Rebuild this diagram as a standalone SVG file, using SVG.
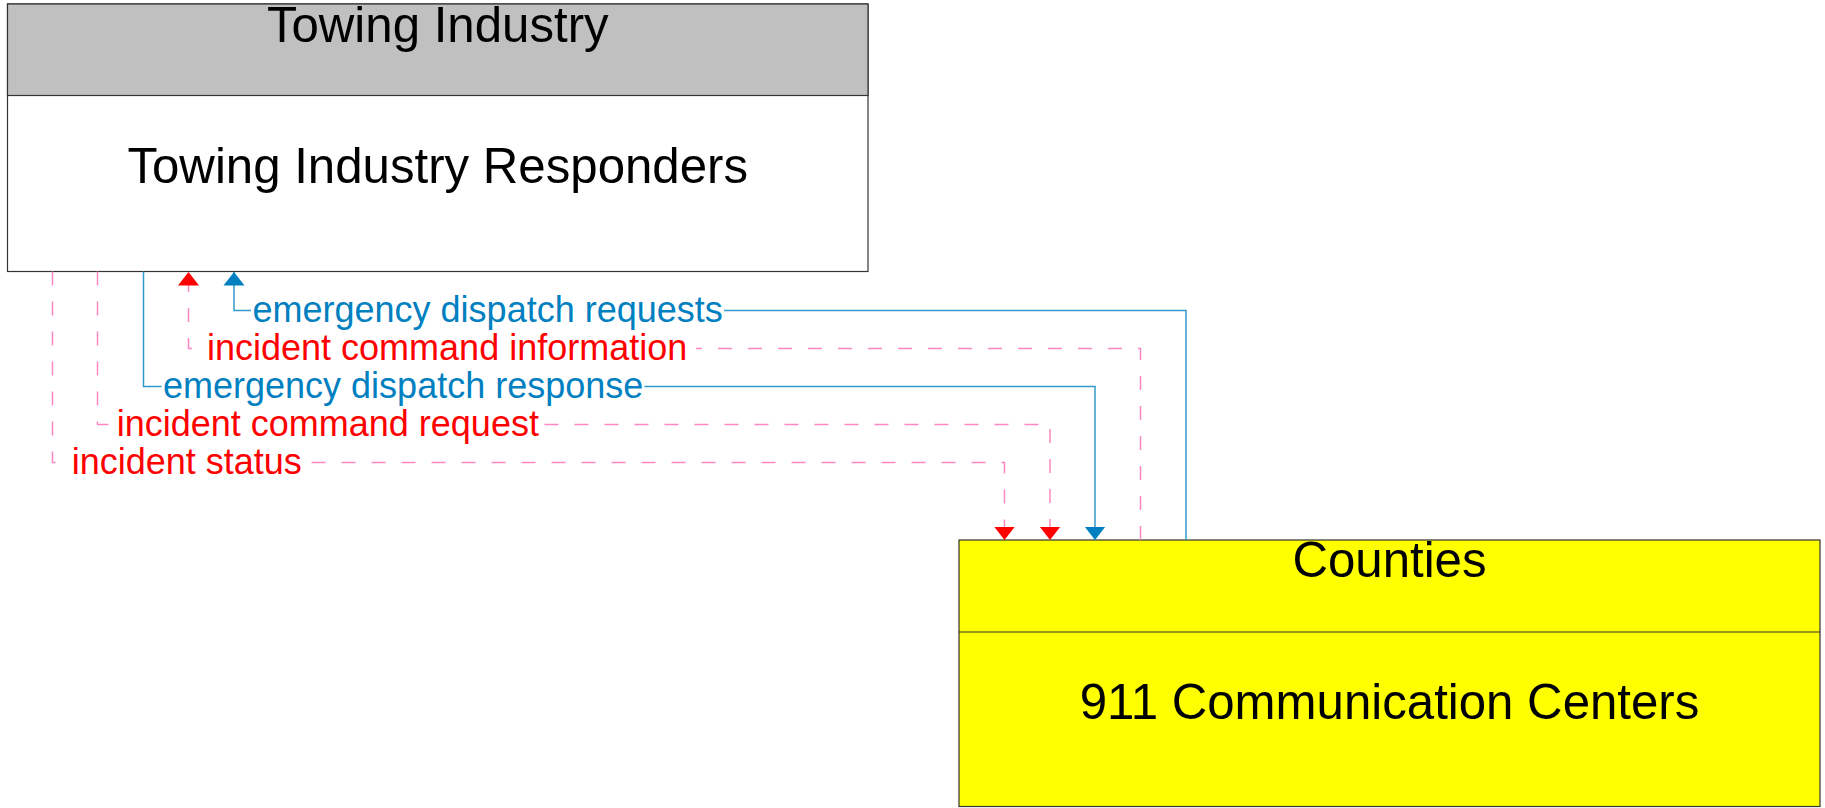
<svg xmlns="http://www.w3.org/2000/svg" width="1825" height="808" viewBox="0 0 1825 808">
  <style>
    .box { stroke: #333333; stroke-width: 1.2; }
    .title { font-family: "Liberation Sans", Arial, sans-serif; font-size: 49.2px; fill: #000000; text-anchor: middle; }
    .lbl { font-family: "Liberation Sans", Arial, sans-serif; font-size: 36px; }
    .lbl-blue { fill: #0080C0; }
    .lbl-red { fill: #FF0000; }
    .flow { fill: none; stroke-width: 1.5; }
    .flow-blue { stroke: #3399CC; }
    .flow-red { stroke: #FF88C4; stroke-dasharray: 14 16; }
    .mask { fill: #FFFFFF; }
  </style>
  <defs>
    <marker id="arrowBlue" markerUnits="userSpaceOnUse" markerWidth="14" markerHeight="22" refX="13.5" refY="11" orient="auto">
      <path d="M0,0.5 L13.5,11 L0,21.5 Z" fill="#0080C0" stroke="none"/>
    </marker>
    <marker id="arrowRed" markerUnits="userSpaceOnUse" markerWidth="14" markerHeight="22" refX="13.5" refY="11" orient="auto">
      <path d="M0,0.5 L13.5,11 L0,21.5 Z" fill="#FF0000" stroke="none"/>
    </marker>
  </defs>

  <rect width="1825" height="808" fill="#FFFFFF"/>

  <!-- Towing Industry / Towing Industry Responders -->
  <g id="node-towing">
    <rect class="box" x="7.5" y="4" width="860.5" height="267.5" fill="#FFFFFF"/>
    <rect class="box" x="7.5" y="4" width="860.5" height="91.5" fill="#C0C0C0"/>
    <text class="title" x="437.75" y="42">Towing Industry</text>
    <text class="title" x="437.75" y="182.5">Towing Industry Responders</text>
  </g>

  <!-- Counties / 911 Communication Centers -->
  <g id="node-counties">
    <rect class="box" x="959" y="540" width="861" height="266.5" fill="#FFFF00"/>
    <line class="box" x1="959" y1="632" x2="1820" y2="632"/>
    <text class="title" x="1389.5" y="577">Counties</text>
    <text class="title" x="1389.5" y="719">911 Communication Centers</text>
  </g>

  <!-- Information flows -->
  <g id="connectors">
    <path class="flow flow-blue" d="M1186,540 V310.5 H234 V272" marker-end="url(#arrowBlue)"/>
    <path class="flow flow-red" d="M1140.5,540 V348.5 H188.5 V272" marker-end="url(#arrowRed)"/>
    <path class="flow flow-blue" d="M143.5,271.5 V386.5 H1095 V540" marker-end="url(#arrowBlue)"/>
    <path class="flow flow-red" d="M97.5,271.5 V424.5 H1050 V540" marker-end="url(#arrowRed)"/>
    <path class="flow flow-red" d="M52.5,271.5 V462.5 H1004.5 V540" marker-end="url(#arrowRed)"/>

    <g id="label-edr">
      <rect class="mask" x="251" y="306" width="473" height="9"/>
      <text class="lbl lbl-blue" x="252.5" y="321.5">emergency dispatch requests</text>
    </g>
    <g id="label-ici">
      <rect class="mask" x="196" y="344" width="500" height="9"/>
      <text class="lbl lbl-red" x="207" y="359.5">incident command information</text>
    </g>
    <g id="label-edresp">
      <rect class="mask" x="161.5" y="382" width="483" height="9"/>
      <text class="lbl lbl-blue" x="163" y="397.5">emergency dispatch response</text>
    </g>
    <g id="label-icr">
      <rect class="mask" x="115" y="420" width="425" height="9"/>
      <text class="lbl lbl-red" x="116.7" y="435.5">incident command request</text>
    </g>
    <g id="label-is">
      <rect class="mask" x="62" y="458" width="242" height="9"/>
      <text class="lbl lbl-red" x="71.7" y="473.5">incident status</text>
    </g>
  </g>
</svg>
